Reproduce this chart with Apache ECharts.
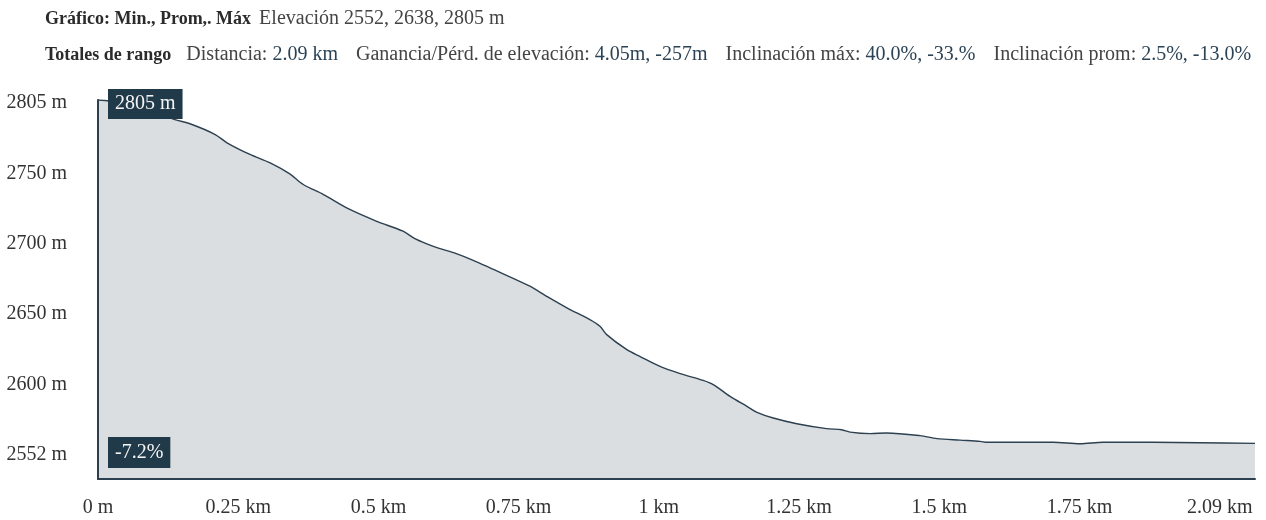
<!DOCTYPE html>
<html>
<head>
<meta charset="utf-8">
<script src="https://cdn.jsdelivr.net/npm/echarts@6/dist/echarts.min.js"></script>
<style>
html,body{margin:0;padding:0;background:#fff;}
#chart{width:1266px;height:520px;}
</style>
</head>
<body>
<div id="chart"></div>
<script>
// ---- data ----
const DIST_KM = [0.000,0.039,0.084,0.111,0.137,0.164,0.209,0.230,0.271,0.307,0.342,0.366,0.402,0.449,0.497,0.544,0.565,0.598,0.640,0.669,0.699,0.770,0.800,0.836,0.877,0.895,0.907,0.943,0.966,1.002,1.038,1.079,1.097,1.127,1.157,1.175,1.204,1.246,1.299,1.326,1.341,1.377,1.406,1.466,1.496,1.537,1.573,1.585,1.703,1.751,1.792,1.881,1.965,2.063];
const ELEV_M = [2805.0,2803.2,2798.0,2795.1,2790.6,2787.5,2779.6,2773.5,2764.9,2758.7,2750.6,2742.8,2735.4,2724.4,2715.7,2708.4,2703.0,2697.3,2691.7,2687.0,2681.4,2667.9,2660.5,2652.0,2643.3,2638.4,2632.3,2621.2,2616.3,2608.9,2603.6,2598.6,2595.5,2586.8,2579.5,2575.1,2570.9,2566.7,2563.1,2562.3,2560.5,2559.4,2559.9,2557.9,2555.7,2554.6,2553.7,2553.0,2553.0,2552.0,2553.0,2553.0,2552.7,2552.2];
const Y_LABELS = ['2552 m','2600 m','2650 m','2700 m','2750 m','2805 m'];
const X_TICKS = [0,0.25,0.5,0.75,1,1.25,1.5,1.75,2.0];
const X_LABELS = ['0 m','0.25 km','0.5 km','0.75 km','1 km','1.25 km','1.5 km','1.75 km','2.09 km'];
const X_MAX = 2.063;
const Y_MIN = 2526;
const Y_MAX = 2805;
const MAX_LABEL = '2805 m';
const GRADE_LABEL = '-7.2%';
const HEAD1 = ['Gráfico: Min., Prom,. Máx', 'Elevación 2552, 2638, 2805 m'];
const HEAD2_BOLD = 'Totales de rango';
const HEAD2_PARTS = [
  ['Distancia:', '2.09 km'],
  ['Ganancia/Pérd. de elevación:', '4.05m, -257m'],
  ['Inclinación máx:', '40.0%, -33.%'],
  ['Inclinación prom:', '2.5%, -13.0%']
];

const FONT = '"Liberation Serif", "DejaVu Serif", serif';
const DARK = '#2d4050';
const BOX = '#213a4a';

const seriesData = DIST_KM.map((d, i) => [d, ELEV_M[i]]);

let head2 = '{b|' + HEAD2_BOLD + '}';
HEAD2_PARTS.forEach((p, i) => {
  head2 += '{' + (i === 0 ? 'g0' : 'g') + '|' + p[0] + '}{v|' + p[1] + '}';
});

const bStyle = {fontFamily: FONT, fontWeight: 'bold', fontSize: 18, color: '#2b2b2b'};
const gStyle = {fontFamily: FONT, fontWeight: 'normal', fontSize: 20, color: '#444444'};
const vStyle = {fontFamily: FONT, fontWeight: 'normal', fontSize: 20, color: '#2c4356'};

const chart = echarts.init(document.getElementById('chart'), null, {renderer: 'canvas'});
chart.setOption({
  animation: false,
  backgroundColor: '#ffffff',
  title: [
    {
      left: 40, top: 4,
      text: '{b|' + HEAD1[0] + '}{g0|' + HEAD1[1] + '}',
      textStyle: {
        fontWeight: 'normal',
        rich: {
          b: bStyle,
          g0: Object.assign({}, gStyle, {padding: [0, 0, 0, 8]})
        }
      }
    },
    {
      left: 40, top: 40,
      text: head2,
      textStyle: {
        fontWeight: 'normal',
        rich: {
          b: bStyle,
          g0: Object.assign({}, gStyle, {padding: [0, 0, 0, 15]}),
          g: Object.assign({}, gStyle, {padding: [0, 0, 0, 18]}),
          v: Object.assign({}, vStyle, {padding: [0, 0, 0, 5]})
        }
      }
    }
  ],
  grid: [
    {left: 98, right: 11, top: 100, bottom: 41},
    {left: 98, right: 11, top: 103, bottom: 65}
  ],
  xAxis: [
    {
      type: 'value', gridIndex: 0, min: 0, max: X_MAX, z: 5,
      axisLine: {show: true, lineStyle: {color: DARK, width: 2}},
      axisTick: {show: false},
      splitLine: {show: false},
      axisLabel: {
        customValues: X_TICKS,
        margin: 19,
        fontFamily: FONT, fontSize: 20, color: '#333333',
        formatter: function (v) {
          const i = X_TICKS.findIndex(t => Math.abs(t - v) < 1e-6);
          return i >= 0 ? X_LABELS[i] : '';
        }
      }
    },
    {type: 'value', gridIndex: 1, show: false}
  ],
  yAxis: [
    {
      type: 'value', gridIndex: 0, min: Y_MIN, max: Y_MAX, z: 5,
      axisLine: {show: true, lineStyle: {color: DARK, width: 2}},
      axisTick: {show: false},
      axisLabel: {show: false},
      splitLine: {show: false}
    },
    {
      type: 'category', gridIndex: 1, data: Y_LABELS, boundaryGap: false,
      axisLine: {show: false}, axisTick: {show: false}, splitLine: {show: false},
      axisLabel: {margin: 31, fontFamily: FONT, fontSize: 20, color: '#333333'}
    }
  ],
  series: [
    {
      type: 'line', xAxisIndex: 0, yAxisIndex: 0,
      data: seriesData,
      showSymbol: false,
      smooth: 0.3,
      lineStyle: {color: DARK, width: 1.4},
      areaStyle: {color: '#dadee1', opacity: 1},
      z: 1
    }
  ],
  graphic: [
    {
      type: 'text', left: 108, top: 89, z: 10,
      style: {
        text: MAX_LABEL, fill: '#f4f4f4', font: '20px ' + FONT,
        backgroundColor: BOX, padding: [3, 7, 3, 7], lineHeight: 24
      }
    },
    {
      type: 'text', left: 108, top: 437, z: 10,
      style: {
        text: GRADE_LABEL, fill: '#f4f4f4', font: '20px ' + FONT,
        backgroundColor: BOX, padding: [4, 7, 3, 7], lineHeight: 24
      }
    }
  ]
});
</script>
</body>
</html>
